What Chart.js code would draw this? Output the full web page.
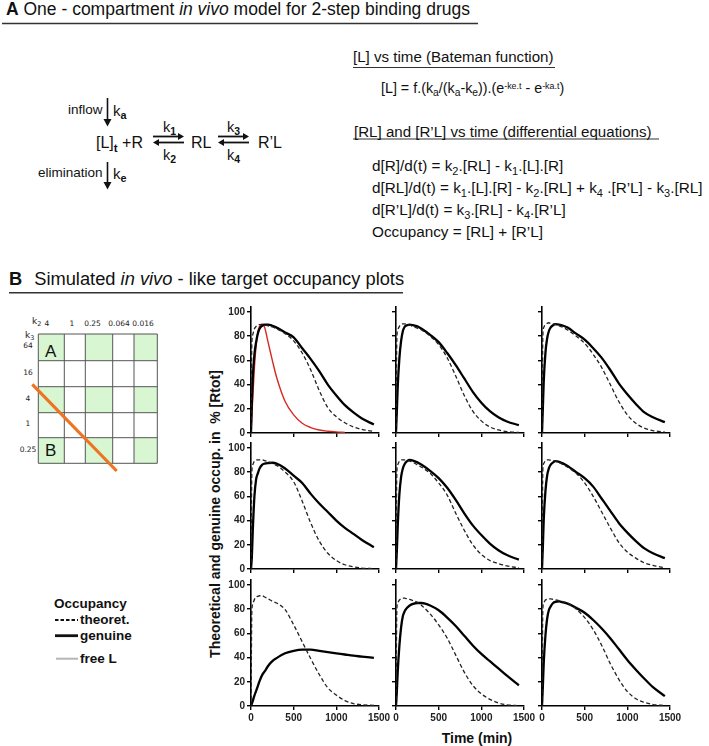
<!DOCTYPE html>
<html><head><meta charset="utf-8">
<script src="https://cdn.jsdelivr.net/npm/chart.js@4.4.1/dist/chart.umd.min.js"></script>
<style>
html,body{margin:0;padding:0;background:#fff}
body{width:709px;height:746px;position:relative;overflow:hidden;font-family:"Liberation Sans",Arial,sans-serif;color:#111}
.t{position:absolute;white-space:nowrap;line-height:1}
.t sub{font-size:0.72em;vertical-align:-0.32em;line-height:0}
.t sup{font-size:0.62em;vertical-align:0.5em;line-height:0}
.sb sub{font-weight:bold}
.g{position:absolute;white-space:nowrap;line-height:1;font-family:"DejaVu Sans",sans-serif;font-size:7.5px;color:#222;transform:translate(-50%,-50%)}
svg{position:absolute;left:0;top:0}
</style></head><body>
<script>
// ---------------- DATA ----------------
const timeMin = [0,10,20,40,60,80,100,130,160,200,250,300,400,500,600,700,800,900,1000,1100,1200,1300,1440];
const xTicks = [0,500,1000,1500];
const yTicks = [0,20,40,60,80,100];
const k2Labels = ['4','1','0.25','0.064','0.016'];
const k3Labels = ['64','16','4','1','0.25'];

// row 1
const theo_r1c1 = [0,74,81,86,88,89,89.5,89.5,89,88.5,87.5,86,82,76,66,52,35,21,13.5,8.5,5,3,1.2];
const gen_r1c1  = [0,25,45,65,75,82,86,88.5,89.5,89.5,88.5,87,83,79,70,61,51,40,31,23,17,12,7];
const freeL_r1c1= [0,14,28,54,72,83,88,90,87,75,60,46,26,15,8,4.5,2.5,1.5,0.9,0.5,null,null,null];
const theo_r1c2 = [0,78,85,88,89.5,90,90,89.5,89,88,86.5,85,80,73,62,47,31,18,10,5,2.5,1.2,0.4];
const gen_r1c2  = [0,18,38,62,76,84,87.5,89,89.5,89,88,86,81,75,66,56,45,34,25,18,13,9.5,6.5];
const theo_r1c3 = [0,80,87,89.5,90.5,91,90.5,90,89.5,88.5,87,85,80,74,65,54,40,26,15,8,4,2,0.8];
const gen_r1c3  = [0,20,42,66,78,84,87,89,89.8,89.5,88.5,87,82,77,70,62,52,41,32,24,17,13,9];
// row 2
const theo_r2c1 = [0,80,86,89,90,90,90,90,89.5,88.5,87,85.5,80,72,56,38,23,13,7,3.5,1.8,0.8,0.3];
const gen_r2c1  = [0,10,30,60,74,79,83,86,87,87.5,87.7,87,83,77,71,62,54,47,40,34,29,24,18];
const theo_r2c2 = [0,80,86,89,90,90,90,89.5,89,88,86,84,79,71,61,46,32,20,12,7,4.5,2.5,1];
const gen_r2c2  = [0,15,35,62,76,83,86.5,89,90,89.5,88,86,81,75,67,57,46,36,28,21,15.5,11.5,7.7];
const theo_r2c3 = [0,82,87,89.5,90,90,89.8,89.5,89,88,86,84,79,71,60,47,34,22,14,9,5,3,1];
const gen_r2c3  = [0,18,40,64,77,83,86,88,89,88.5,87,85,80,75,68,58,48,38,30,23,17,13,9];
// row 3
const theo_r3c1 = [0,78,84,88,90,90.5,91,91,90,88.5,86.5,85,79.5,67,53,39,26,15,9,4.5,2,1,0.5];
const gen_r3c1  = [0,2,4,8.5,12.5,16.5,20.5,25.5,28.5,33,37,39.5,43.5,45.5,46.5,46.5,45.5,44.5,43.5,42.5,41.5,40.8,39.7];
const theo_r3c2 = [0,80,85,87.5,88.5,89,89,88.5,88,87,85.5,83,76,67,56,42,28,17,10,5.5,2.5,1,0.3];
const gen_r3c2  = [0,12,28,50,65,74,78,81,83,84.3,85,85,83,79,73,66,58,50,43,37,31,25,17];
const theo_r3c3 = [0,80,85,87.5,88,88.5,88.5,88,87.5,87,86,85,80,73,63,50,35,22,12,6,3,1.2,0.4];
const gen_r3c3  = [0,16,35,58,72,79,82,85,86,86.3,85.5,84.5,81,77,71,64,56,47,38,30,22.5,15.5,8.2];
</script>

<svg width="709" height="746" id="deco"></svg>

<!-- Section A -->
<div class="t" style="left:6px;top:0.5px;font-size:17.5px"><b>A</b>&nbsp;One - compartment <i>in vivo</i> model for 2-step binding drugs</div>

<div class="t" style="left:68px;top:103px;font-size:13.5px">inflow</div>
<div class="t sb" style="left:113px;top:102.5px;font-size:15px">k<sub>a</sub></div>
<div class="t sb" style="left:96px;top:135px;font-size:16px">[L]<sub>t</sub> +R</div>
<div class="t sb" style="left:163px;top:120px;font-size:14.5px">k<sub>1</sub></div>
<div class="t sb" style="left:163px;top:147.5px;font-size:14.5px">k<sub>2</sub></div>
<div class="t" style="left:191px;top:135px;font-size:16px">RL</div>
<div class="t sb" style="left:227px;top:120px;font-size:14.5px">k<sub>3</sub></div>
<div class="t sb" style="left:227px;top:147.5px;font-size:14.5px">k<sub>4</sub></div>
<div class="t" style="left:258px;top:135px;font-size:16px">R’L</div>
<div class="t" style="left:38px;top:166px;font-size:13.5px">elimination</div>
<div class="t sb" style="left:113px;top:165.5px;font-size:15px">k<sub>e</sub></div>

<div class="t" style="left:353px;top:48.5px;font-size:15.1px">[L] vs time (Bateman function)</div>
<div class="t" style="left:381px;top:81px;font-size:14.3px">[L] = f.(k<sub>a</sub>/(k<sub>a</sub>-k<sub>e</sub>)).(e<sup>-ke.t</sup> - e<sup>-ka.t</sup>)</div>
<div class="t" style="left:354px;top:123.5px;font-size:15.1px">[RL] and [R’L] vs time (differential equations)</div>
<div class="t" style="left:372px;top:157.5px;font-size:15.3px">d[R]/d(t) = k<sub>2</sub>.[RL] - k<sub>1</sub>.[L].[R]</div>
<div class="t" style="left:372px;top:179.5px;font-size:15.3px">d[RL]/d(t) = k<sub>1</sub>.[L].[R] - k<sub>2</sub>.[RL] + k<sub>4</sub> .[R’L] - k<sub>3</sub>.[RL]</div>
<div class="t" style="left:372px;top:201.5px;font-size:15.3px">d[R’L]/d(t) = k<sub>3</sub>.[RL] - k<sub>4</sub>.[R’L]</div>
<div class="t" style="left:372px;top:223.5px;font-size:15.3px">Occupancy = [RL] + [R’L]</div>

<!-- Section B -->
<div class="t" style="left:9px;top:270px;font-size:18.3px"><b>B</b><span style="margin-left:12px">Simulated <i>in vivo</i> - like target occupancy plots</span></div>

<div class="t" style="left:32px;top:317px;font-family:'DejaVu Sans',sans-serif;font-size:9px;color:#222">k<sub>2</sub></div>
<div class="t" style="left:25px;top:331px;font-family:'DejaVu Sans',sans-serif;font-size:9px;color:#222">k<sub>3</sub></div>
<div id="gridlabels"></div>
<div class="t" style="left:45px;top:343px;font-size:17px">A</div>
<div class="t" style="left:45px;top:442px;font-size:17px">B</div>

<div class="t" style="left:54px;top:597px;font-size:13.5px;font-weight:bold">Occupancy</div>
<div class="t" style="left:80px;top:613px;font-size:13.5px;font-weight:bold">theoret.</div>
<div class="t" style="left:80px;top:628.5px;font-size:13.5px;font-weight:bold">genuine</div>
<div class="t" style="left:80px;top:652px;font-size:13.5px;font-weight:bold">free L</div>

<div class="t" style="left:215px;top:514px;font-size:14px;font-weight:bold;transform:translate(-50%,-50%) rotate(-90deg)">Theoretical and genuine occup. in&nbsp; % [Rtot]</div>
<div class="t" style="left:477px;top:738px;font-size:14px;font-weight:bold;transform:translate(-50%,-50%)">Time (min)</div>

<script>
// ---------- decorations (SVG) ----------
const NS='http://www.w3.org/2000/svg';
const svg=document.getElementById('deco');
function el(tag,attrs){const e=document.createElementNS(NS,tag);for(const k in attrs)e.setAttribute(k,attrs[k]);svg.appendChild(e);return e;}
function line(x1,y1,x2,y2,stroke,w,dash){const a={x1,y1,x2,y2,stroke,'stroke-width':w};if(dash)a['stroke-dasharray']=dash;return el('line',a);}
function tri(pts,fill){return el('polygon',{points:pts,fill:fill||'#111'});}
// underlines
line(2,23.5,478,23.5,'#333',1.5);
line(353,67.5,555,67.5,'#333',1.2);
line(353,139,659,139,'#333',1.2);
line(9,292.7,403,292.7,'#333',1.5);
// vertical arrows
line(107.5,98,107.5,120,'#111',1.6); tri('103.5,119 111.5,119 107.5,126.5');
line(107.5,162,107.5,183,'#111',1.6); tri('103.5,182 111.5,182 107.5,189.5');
// equilibrium arrows
function eq(xa,xb){
  line(xa,136.5,xb-5,136.5,'#111',1.8); tri(`${xb-6},133 ${xb-6},140 ${xb},136.5`);
  line(xa+5,142.5,xb,142.5,'#111',1.8); tri(`${xa+6},139 ${xa+6},146 ${xa},142.5`);
}
eq(153,184); eq(218,249);
// k2/k3 grid
const gx=[38.3,64.3,85.3,112.7,134,157.3], gy=[334,360.7,386.7,412.7,437.7,463.3];
for(let r=0;r<5;r++)for(let c=0;c<5;c++){
  if(r%2===0 && c%2===0) el('rect',{x:gx[c],y:gy[r],width:gx[c+1]-gx[c],height:gy[r+1]-gy[r],fill:'#d8f6d2'});
}
gx.forEach(x=>line(x,gy[0],x,gy[5],'#555',1));
gy.forEach(y=>line(gx[0],y,gx[5],y,'#555',1));
line(32.3,384.3,116.7,471,'#ee7424',3.2);
// legend swatches
line(55,620,78,620,'#111',2,'3.5 2');
line(55,635.7,78,635.7,'#111',2.8);
line(56,658.7,78,658.7,'#b5b5b5',2);
// grid labels
const gl=document.getElementById('gridlabels');
const colC=[47,72,92.5,119,143];
k2Labels.forEach((s,i)=>{const d=document.createElement('div');d.className='g';d.style.left=colC[i]+'px';d.style.top='323.5px';d.textContent=s;gl.appendChild(d);});
k3Labels.forEach((s,i)=>{const d=document.createElement('div');d.className='g';d.style.left='28px';d.style.top=((gy[i]+gy[i+1])/2-1)+'px';d.textContent=s;gl.appendChild(d);});

// ---------- charts ----------
const panels=[
  [[theo_r1c1,gen_r1c1,freeL_r1c1],[theo_r1c2,gen_r1c2,null],[theo_r1c3,gen_r1c3,null]],
  [[theo_r2c1,gen_r2c1,null],[theo_r2c2,gen_r2c2,null],[theo_r2c3,gen_r2c3,null]],
  [[theo_r3c1,gen_r3c1,null],[theo_r3c2,gen_r3c2,null],[theo_r3c3,gen_r3c3,null]]
];
const COLX=[251,396,542], ROWY0=[433,569,706];
const PW=128, PH=126, YW=45, PT=8, PR=18, XH=26;
const pts=arr=>timeMin.map((t,i)=>({x:t,y:arr[i]})).filter(p=>p.y!==null&&p.y!==undefined);
const tickFont={family:'"Liberation Sans", Arial, sans-serif',size:10,weight:'bold'};
for(let r=0;r<3;r++)for(let c=0;c<3;c++){
  const [th,gen,fr]=panels[r][c];
  const W=YW+PW+PR, H=PT+PH+XH;
  const cv=document.createElement('canvas');
  cv.width=W; cv.height=H;
  cv.style.cssText=`position:absolute;left:${COLX[c]-YW}px;top:${ROWY0[r]-PH-PT}px;width:${W}px;height:${H}px`;
  document.body.appendChild(cv);
  const ds=[
    {data:pts(th),borderColor:'#222',borderWidth:1.3,borderDash:[4,2.5]},
    {data:pts(gen),borderColor:'#000',borderWidth:2.3}
  ];
  if(fr) ds.push({data:pts(fr),borderColor:'#d42a22',borderWidth:1.4});
  new Chart(cv,{
    type:'line',
    data:{datasets:ds},
    options:{
      responsive:false,animation:false,devicePixelRatio:1,
      layout:{padding:{left:0,right:PR,top:PT,bottom:0}},
      elements:{point:{radius:0},line:{cubicInterpolationMode:'monotone',fill:false}},
      plugins:{legend:{display:false},tooltip:{enabled:false}},
      scales:{
        x:{type:'linear',min:0,max:1500,
          afterFit:s=>{s.height=XH;},
          afterBuildTicks:s=>{s.ticks=xTicks.map(v=>({value:v}));},
          ticks:{display:r===2,font:tickFont,color:'#222',padding:2,maxRotation:0,autoSkip:false,callback:v=>String(v)},
          grid:{drawOnChartArea:false,drawTicks:true,tickLength:4,color:'#000',lineWidth:1.4},
          border:{display:true,color:'#000',width:1.6}},
        y:{type:'linear',min:0,max:104,
          afterFit:s=>{s.width=YW;},
          afterBuildTicks:s=>{s.ticks=yTicks.map(v=>({value:v}));},
          ticks:{display:c===0,font:tickFont,color:'#222',padding:2,callback:v=>String(v)},
          grid:{drawOnChartArea:false,drawTicks:true,tickLength:4,color:'#000',lineWidth:1.4},
          border:{display:true,color:'#000',width:1.6}}
      }
    }
  });
}
</script>
</body></html>
